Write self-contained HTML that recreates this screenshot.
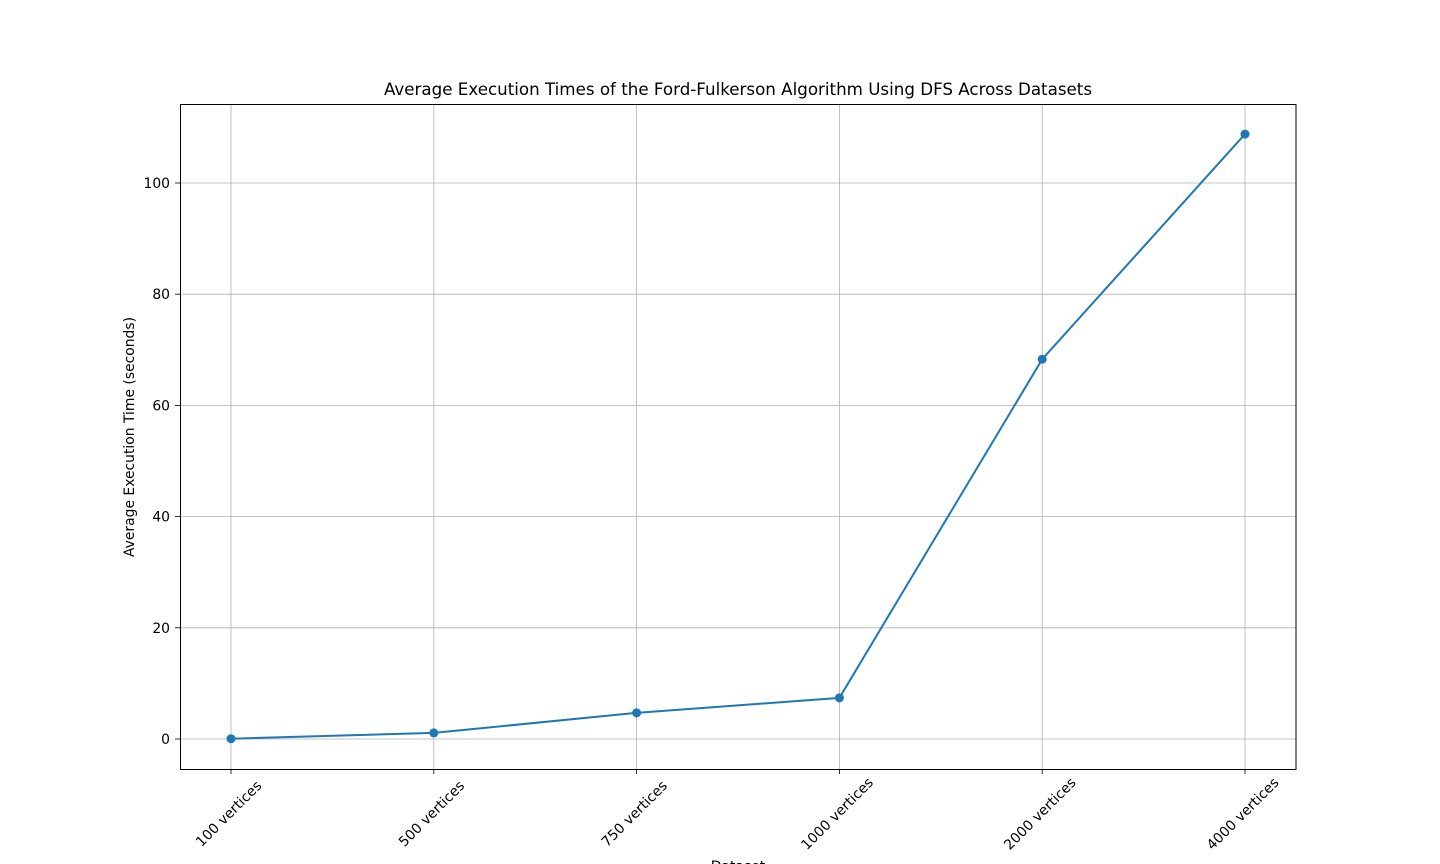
<!DOCTYPE html>
<html><head><meta charset="utf-8"><style>
html,body{margin:0;padding:0;background:#fff;}
svg{display:block;font-family:"DejaVu Sans","Liberation Sans",sans-serif;}
</style></head><body>
<svg id="chart" width="1440" height="864">
<text x="738" y="95" font-size="16.7" text-anchor="middle">Average Execution Times of the Ford-Fulkerson Algorithm Using DFS Across Datasets</text>
<g id="grid"></g>
<g id="series"></g>
<rect x="180.5" y="104.5" width="1115.5" height="665" fill="none" stroke="#000" stroke-width="1"/>
<g id="axes"></g>
<text x="0" y="0" font-size="13.9" text-anchor="middle" transform="translate(134,437) rotate(-90)">Average Execution Time (seconds)</text>
<text x="738" y="871" font-size="13.9" text-anchor="middle">Dataset</text>
</svg>
<script>
const categories = ["100 vertices","500 vertices","750 vertices","1000 vertices","2000 vertices","4000 vertices"];
const times = [0.05, 1.1, 4.7, 7.4, 68.3, 108.8];
const yTicks = [0, 20, 40, 60, 80, 100];

const NS = "http://www.w3.org/2000/svg";
const x0 = 231, x1 = 1245;
function xPos(i){ return x0 + (x1 - x0) * i / (categories.length - 1); }
function yPos(v){ return 739 - v * 5.56; }
function mk(tag, attrs, parent){ const e = document.createElementNS(NS, tag); for (const k in attrs) e.setAttribute(k, attrs[k]); parent.appendChild(e); return e; }
const grid = document.getElementById('grid'), axes = document.getElementById('axes'), series = document.getElementById('series');

categories.forEach((c, i) => {
  const x = xPos(i);
  const g = mk('line', {x1:x, x2:x, y1:104, y2:769, stroke:'#b0b0b0', 'stroke-width':0.8}, grid);
  
  
  const t = mk('line', {x1:x, x2:x, y1:769, y2:774, stroke:'#000', 'stroke-width':0.8}, axes);
  
  
  const l = mk('text', {x:0, y:0, 'font-size':13.9, 'text-anchor':'middle', transform:`translate(${x + 1},${817}) rotate(-45)`}, axes);
  l.textContent = c;
  
  
});
yTicks.forEach(v => {
  const y = yPos(v);
  const g = mk('line', {x1:180, x2:1296, y1:y, y2:y, stroke:'#b0b0b0', 'stroke-width':0.8}, grid);
  
  
  const t = mk('line', {x1:175, x2:180, y1:y, y2:y, stroke:'#000', 'stroke-width':0.8}, axes);
  
  
  const l = mk('text', {x:170, y:y + 5, 'font-size':13.9, 'text-anchor':'end'}, axes);
  l.textContent = v;
  
  
});
const pts = times.map((v, i) => xPos(i) + ',' + yPos(v)).join(' ');
const line = mk('polyline', {points:pts, fill:'none', stroke:'#1f77b4', 'stroke-width':2}, series);


times.forEach((v, i) => {
  const c = mk('circle', {cx:xPos(i), cy:yPos(v), r:4.5, fill:'#1f77b4'}, series);
  
  
});
</script>
</body></html>
